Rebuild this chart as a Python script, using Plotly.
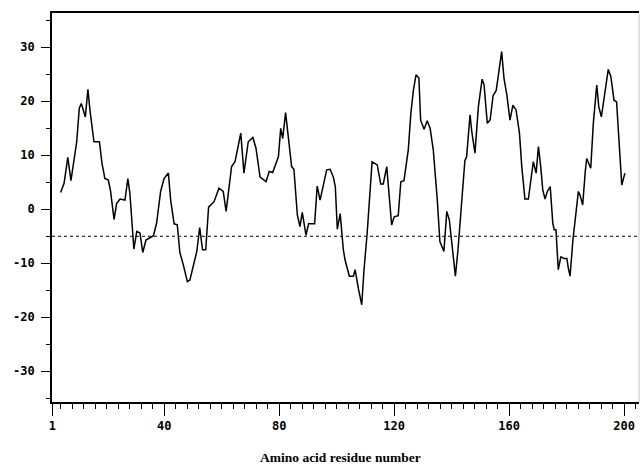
import plotly.graph_objects as go

# Hydrophilicity profile
residue = [3.9, 5.1, 6.4, 7.5, 9.5, 10.4, 11.1, 12.5, 13.4, 14.1, 15.5, 17.4, 18.3, 19.3, 20.5,
           21.3, 22.5, 23.4, 24.6, 26.3, 27.3, 28.0, 29.4, 30.4, 31.5, 32.5, 33.6, 36.2, 37.3,
           38.7, 39.9, 41.4, 42.2, 43.4, 44.5, 45.4, 46.6, 48.0, 48.9, 50.5, 51.3, 52.3, 53.3,
           54.4, 55.4, 57.3, 59.0, 60.5, 61.5, 63.4, 64.6, 66.6, 67.7, 69.2, 70.8, 71.9, 73.3,
           75.4, 76.5, 77.7, 79.7, 80.5, 81.2, 82.2, 82.8, 84.3, 85.1, 86.3, 87.2, 88.0, 89.3,
           90.2, 92.3, 93.2, 94.2, 95.3, 96.5, 97.7, 98.8, 99.5, 100.2, 101.2, 102.3, 102.9,
           104.4, 105.8, 106.4, 107.5, 108.7, 109.5, 110.6, 112.3, 114.1, 115.3, 116.2, 117.4,
           119.1, 120.0, 121.4, 122.3, 123.4, 124.9, 125.8, 126.7, 127.6, 128.6, 129.2, 130.4,
           131.5, 132.5, 133.6, 135.0, 135.9, 137.3, 138.3, 139.2, 140.1, 141.3, 142.2, 143.6,
           144.6, 145.2, 146.4, 147.0, 148.1, 149.3, 150.6, 151.3, 152.4, 153.4, 154.4, 155.5,
           156.6, 157.4, 158.2, 159.2, 160.3, 161.3, 162.4, 163.6, 164.4, 165.5, 166.7, 167.9,
           168.4, 169.4, 170.2, 171.0, 171.7, 172.5, 173.3, 174.3, 175.2, 175.7, 176.3, 177.1,
           178.0, 179.1, 180.1, 180.6, 181.2, 182.2, 183.3, 184.1, 184.7, 185.6, 186.5, 187.0,
           188.4, 189.3, 190.5, 191.2, 192.1, 193.5, 194.5, 195.4, 196.5, 197.4, 198.6, 199.2,
           200.3]
hydrophilicity = [3.1, 4.8, 9.6, 5.3, 12.5, 18.7, 19.6, 17.1, 22.2, 18.4, 12.5, 12.5, 8.5, 5.7, 5.4,
                  3.3, -1.9, 1.1, 1.9, 1.7, 5.7, 3.0, -7.4, -4.1, -4.4, -8.0, -5.7, -4.9, -2.6,
                  3.3, 5.7, 6.7, 1.7, -2.7, -2.9, -8.0, -10.3, -13.4, -13.1, -9.8, -7.8, -3.4, -7.5,
                  -7.5, 0.4, 1.4, 3.9, 3.3, -0.4, 7.9, 8.8, 14.1, 6.7, 12.5, 13.3, 11.3, 6.0,
                  5.1, 7.0, 6.8, 9.7, 15.0, 13.1, 17.9, 15.3, 7.9, 7.4, -1.1, -3.2, -0.6, -4.8,
                  -2.7, -2.7, 4.3, 1.7, 4.5, 7.3, 7.4, 6.0, 4.2, -3.7, -0.8, -7.5, -9.4,
                  -12.4, -12.4, -11.2, -14.6, -17.7, -11.2, -4.4, 8.8, 8.2, 4.7, 4.7, 7.9,
                  -2.9, -1.4, -1.2, 5.1, 5.3, 11.0, 17.8, 22.1, 24.9, 24.3, 16.5, 14.8,
                  16.4, 15.0, 11.0, 1.7, -6.0, -7.8, -0.4, -2.0, -6.9, -12.4, -7.5, 3.0,
                  9.0, 9.7, 17.5, 14.4, 10.4, 19.0, 24.1, 23.0, 15.9, 16.6, 21.0, 22.0,
                  26.0, 29.2, 24.3, 21.2, 16.5, 19.3, 18.4, 14.1, 7.9, 1.9, 1.9, 7.0,
                  8.8, 6.7, 11.6, 7.9, 3.6, 1.9, 3.3, 4.2, -2.6, -3.8, -3.8, -11.2,
                  -8.8, -9.1, -9.1, -10.9, -12.4, -5.7, -0.7, 3.3, 2.6, 0.8, 7.0, 9.4,
                  7.6, 15.9, 23.0, 19.0, 17.1, 22.1, 25.9, 24.6, 20.2, 19.9, 10.4, 4.5,
                  6.7]

x_tick_values = [1, 40, 80, 120, 160, 200]
x_tick_labels = ["1", "40", "80", "120", "160", "200"]
y_tick_values = [-30, -20, -10, 0, 10, 20, 30]
y_tick_labels = ["-30", "-20", "-10", "0", "10", "20", "30"]
threshold = -5
x_title = "Amino acid residue number"

tick_font = dict(family="DejaVu Sans Mono", size=12, color="black", weight="bold")

FIG_W, FIG_H = 640, 469
M_L, M_R, M_T, M_B = 52, 1, 13, 67
plot_w = FIG_W - M_L - M_R
plot_h = FIG_H - M_T - M_B

fig = go.Figure()
fig.add_trace(go.Scatter(
    x=residue, y=hydrophilicity, mode="lines",
    line=dict(color="black", width=1.5),
    hoverinfo="skip", showlegend=False,
))

# dotted threshold line
fig.add_shape(type="line", xref="paper", x0=0, x1=1, yref="y", y0=threshold, y1=threshold,
              line=dict(color="black", width=1, dash="dot"))
# faint right frame edge
fig.add_shape(type="line", xref="paper", x0=1, x1=1, yref="paper", y0=0, y1=1,
              line=dict(color="#c8c8c8", width=1))

x_minor = [v for v in range(4, 206, 4) if v not in x_tick_values]
y_minor = [v for v in range(-35, 40, 10)]

fig.update_xaxes(
    range=[0.9, 205.2],
    tickmode="array", tickvals=x_tick_values, ticktext=x_tick_labels,
    ticks="outside", ticklen=12, tickwidth=1.3, tickcolor="black",
    showline=True, linecolor="black", linewidth=2, mirror=True,
    showgrid=False, zeroline=False, tickfont=tick_font,
    minor=dict(tickmode="array", tickvals=x_minor, ticks="outside", ticklen=5,
               tickwidth=1.2, tickcolor="black", showgrid=False),
)
fig.update_yaxes(
    range=[-35.7, 36.35],
    tickmode="array", tickvals=y_tick_values, ticktext=y_tick_labels,
    ticks="outside", ticklen=9, tickwidth=1.3, tickcolor="black",
    showline=True, linecolor="black", linewidth=1.6,
    showgrid=False, zeroline=False, tickfont=tick_font, ticklabelstandoff=4,
    minor=dict(tickmode="array", tickvals=y_minor, ticks="outside", ticklen=4,
               tickwidth=1.2, tickcolor="black", showgrid=False),
)

# x-axis title, centred near page pixel (340, 457) like the reference
fig.add_annotation(
    text=x_title, xref="paper", yref="paper",
    x=(340 - M_L) / plot_w, y=-(457 - (FIG_H - M_B)) / plot_h,
    xanchor="center", yanchor="middle", showarrow=False,
    font=dict(family="Liberation Serif", size=13.5, color="black", weight="bold"),
)

fig.update_layout(
    width=FIG_W, height=FIG_H,
    margin=dict(l=M_L, r=M_R, t=M_T, b=M_B),
    paper_bgcolor="white", plot_bgcolor="white",
)

# remove the page's default 8 px body margin so the 640x469 figure fills the window exactly
fig.write_html(
    "out.html",
    config={"displayModeBar": False},
    post_script="document.body.style.margin='0';document.body.style.overflow='hidden';",
)
